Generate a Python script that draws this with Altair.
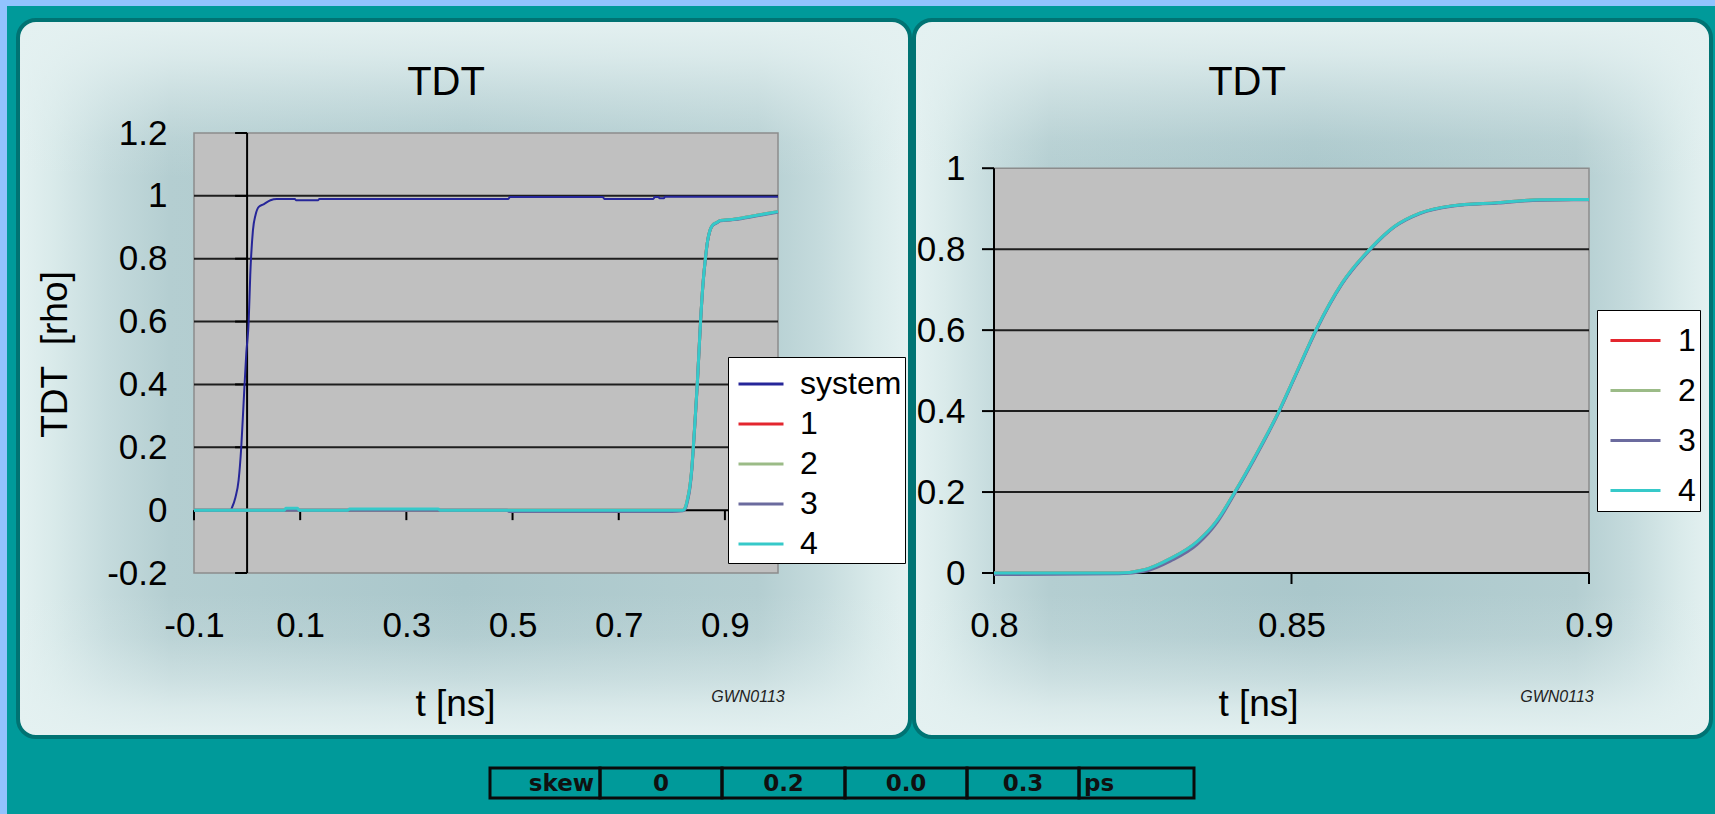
import altair as alt
import pandas as pd

# ----------------------------------------------------------------------
# TDT step responses (t in ns, reflection coefficient rho)
# ----------------------------------------------------------------------
t_system = [-0.1, -0.031, -0.028, -0.022, -0.016, -0.011, -0.0066, -0.0015,
            0.003, 0.006, 0.011, 0.016, 0.022, 0.031, 0.044, 0.056, 0.09,
            0.092, 0.134, 0.136, 0.492, 0.495, 0.67, 0.673, 0.765, 0.768,
            0.775, 0.777, 0.785, 0.787, 1.0]
rho_system = [0.0, 0.0, 0.01, 0.04, 0.095, 0.2, 0.34, 0.5,
              0.6, 0.75, 0.89, 0.94, 0.965, 0.973, 0.986, 0.99, 0.99,
              0.986, 0.986, 0.99, 0.99, 0.996, 0.996, 0.99, 0.99, 0.996,
              0.996, 0.992, 0.992, 0.997, 0.997]

# the four channels share one time base
t_chan = [-0.1, 0.07, 0.073, 0.095, 0.098, 0.19, 0.193, 0.36, 0.363, 0.49,
          0.493, 0.8, 0.821, 0.8253, 0.8297, 0.8341, 0.8375, 0.8406, 0.8437,
          0.8479, 0.8507, 0.8542, 0.8585, 0.8633, 0.8673, 0.8716, 0.8769,
          0.8847, 0.8917, 0.9, 0.93, 0.966, 1.0]
rho_ch1 = [0.0, 0.0, 0.0, 0.0, 0.0, 0.0, 0.0, 0.0, 0.0, 0.0,
           0.0, 0.0, 0.0, 0.008, 0.036, 0.077, 0.13, 0.203, 0.283,
           0.40, 0.49, 0.603, 0.716, 0.802, 0.856, 0.889, 0.907,
           0.915, 0.922, 0.923, 0.929, 0.94, 0.95]
rho_ch2 = [0.0, 0.0, 0.0, 0.0, 0.0, 0.0, 0.0, 0.0, 0.0, 0.0,
           0.0, 0.0, 0.0, 0.008, 0.036, 0.077, 0.13, 0.203, 0.283,
           0.40, 0.49, 0.603, 0.716, 0.802, 0.856, 0.889, 0.907,
           0.915, 0.922, 0.923, 0.929, 0.94, 0.95]
rho_ch3 = [0.0, 0.0, 0.0, 0.0, 0.0, 0.0, 0.0, 0.0, 0.0, 0.0,
           -0.004, -0.004, -0.002, 0.004, 0.03, 0.07, 0.125, 0.2, 0.28,
           0.398, 0.488, 0.601, 0.714, 0.8, 0.855, 0.888, 0.906,
           0.914, 0.921, 0.922, 0.927, 0.938, 0.948]
rho_ch4 = [0.0, 0.0, 0.006, 0.006, 0.0, 0.0, 0.004, 0.004, 0.0, 0.0,
           0.0, 0.0, 0.0, 0.008, 0.036, 0.077, 0.13, 0.203, 0.283,
           0.40, 0.49, 0.603, 0.716, 0.802, 0.856, 0.889, 0.907,
           0.915, 0.922, 0.923, 0.929, 0.94, 0.95]

SERIES = ["system", "1", "2", "3", "4"]
SERIES_COLORS = ["#262699", "#E3262E", "#9BBB87", "#6B6B9E", "#36C9C9"]
SERIES_WIDTHS = [2, 3, 3, 3, 3]
CHANNELS = SERIES[1:]
CHANNEL_COLORS = SERIES_COLORS[1:]

# axes: overview (left) and zoom on the channel edge (right)
LEFT_X_DOMAIN = [-0.1, 1.0]
LEFT_Y_DOMAIN = [-0.2, 1.2]
LEFT_X_TICKS = [-0.1, 0.1, 0.3, 0.5, 0.7, 0.9]
LEFT_Y_TICKS = [-0.2, 0.0, 0.2, 0.4, 0.6, 0.8, 1.0, 1.2]
LEFT_GRID = [0.2, 0.4, 0.6, 0.8, 1.0]

RIGHT_X_DOMAIN = [0.8, 0.9]
RIGHT_Y_BOX = [0.0, 1.0]
RIGHT_X_TICKS = [0.8, 0.85, 0.9]
RIGHT_Y_TICKS = [0.0, 0.2, 0.4, 0.6, 0.8, 1.0]
RIGHT_GRID = [0.2, 0.4, 0.6, 0.8]

SKEW_CELLS = ["skew", "0", "0.2", "0.0", "0.3", "ps"]

# ----------------------------------------------------------------------
# page layout (pixels)
# ----------------------------------------------------------------------
PAGE_W, PAGE_H = 1715, 814
L_X0, L_Y0, L_W, L_H = 194, 133, 584, 440     # left plot area
R_X0, R_W, R_H = 994, 595, 440                # right plot area (same top)
R_Y_TOP = 1.087                               # rho at the top edge of the right view
PANEL_TOP, PANEL_BOTTOM = 20, 737
TABLE_EDGES = [490, 600, 722, 845, 967, 1079, 1194]
TABLE_TOP, TABLE_BOTTOM = 768, 798
FONT = "Liberation Sans"

ONE = pd.DataFrame({"k": [0]})

H_GRAD = {"gradient": "linear", "x1": 0, "y1": 0, "x2": 1, "y2": 0,
          "stops": [{"offset": 0.0, "color": "#E4F1F1"},
                    {"offset": 0.04, "color": "#D9EAEA"},
                    {"offset": 0.10, "color": "#C5DBDD"},
                    {"offset": 0.17, "color": "#B4CED1"},
                    {"offset": 0.50, "color": "#AAC7CB"},
                    {"offset": 0.83, "color": "#B4CED1"},
                    {"offset": 0.90, "color": "#C5DBDD"},
                    {"offset": 0.96, "color": "#D9EAEA"},
                    {"offset": 1.0, "color": "#E4F1F1"}]}
V_GRAD = {"gradient": "linear", "x1": 0, "y1": 0, "x2": 0, "y2": 1,
          "stops": [{"offset": 0.0, "color": "rgba(228,241,241,1)"},
                    {"offset": 0.05, "color": "rgba(228,241,241,0.8)"},
                    {"offset": 0.10, "color": "rgba(228,241,241,0.5)"},
                    {"offset": 0.17, "color": "rgba(228,241,241,0.12)"},
                    {"offset": 0.22, "color": "rgba(228,241,241,0)"},
                    {"offset": 0.80, "color": "rgba(228,241,241,0)"},
                    {"offset": 0.86, "color": "rgba(228,241,241,0.15)"},
                    {"offset": 0.92, "color": "rgba(228,241,241,0.5)"},
                    {"offset": 0.96, "color": "rgba(228,241,241,0.8)"},
                    {"offset": 1.0, "color": "rgba(228,241,241,1)"}]}


def box(x0, y0, x1, y1, ox, oy, **mark):
    """Rectangle placed in page pixels, relative to a view origin (ox, oy)."""
    return alt.Chart(ONE).mark_rect(**mark).encode(
        x=alt.value(x0 - ox), x2=alt.value(x1 - ox),
        y=alt.value(y0 - oy), y2=alt.value(y1 - oy))


def text(txt, x, y, ox, oy, **mark):
    return alt.Chart(ONE).mark_text(**mark).encode(
        x=alt.value(x - ox), y=alt.value(y - oy), text=alt.value(txt))


def panel(x0, x1, ox, oy):
    return [
        box(x0, PANEL_TOP, x1, PANEL_BOTTOM, ox, oy, cornerRadius=18, fill=H_GRAD),
        box(x0, PANEL_TOP, x1, PANEL_BOTTOM, ox, oy, cornerRadius=18, fill=V_GRAD),
        box(x0, PANEL_TOP, x1, PANEL_BOTTOM, ox, oy, cornerRadius=18,
            fill="transparent", stroke="#007373", strokeWidth=4),
    ]


# ----------------------------------------------------------------------
# long-form curve table
# ----------------------------------------------------------------------
rows = [{"t": t, "rho": r, "series": "system"} for t, r in zip(t_system, rho_system)]
for name, vals in zip(CHANNELS, [rho_ch1, rho_ch2, rho_ch3, rho_ch4]):
    rows += [{"t": t, "rho": r, "series": name} for t, r in zip(t_chan, vals)]
curves = pd.DataFrame(rows)

NUM = "datum.value < 0 ? '-' + format(-datum.value, '~g') : format(datum.value, '~g')"
AXIS_STYLE = dict(labelFont=FONT, labelFontSize=35, labelColor="black",
                  titleFont=FONT, titleFontSize=37, titleFontWeight="normal",
                  titleColor="black", domain=False, ticks=False, tickSize=0,
                  grid=False, labelFlush=False, labelOverlap=False, zindex=1)


def tick_frame(values):
    return pd.DataFrame({"v": values, "z": [0.0] * len(values)})


# ----------------------------------------------------------------------
# left: full time window
# ----------------------------------------------------------------------
lxs = alt.Scale(domain=LEFT_X_DOMAIN, nice=False, zero=False)
lys = alt.Scale(domain=LEFT_Y_DOMAIN, nice=False, zero=False)
lx_axis = alt.Axis(values=LEFT_X_TICKS, labelExpr=NUM, labelPadding=35,
                   title="t [ns]", titleX=455 - L_X0, titleY=715 - (L_Y0 + L_H),
                   titleAlign="center", titleBaseline="alphabetic", **AXIS_STYLE)
ly_axis = alt.Axis(values=LEFT_Y_TICKS, labelExpr=NUM, labelPadding=27,
                   title="TDT\u00a0 [rho]", titleX=55 - L_X0, titleY=354 - L_Y0,
                   titleAngle=270, titleAlign="center", titleBaseline="middle",
                   **AXIS_STYLE)
LX = lambda f: alt.X(f"{f}:Q", scale=lxs, axis=lx_axis)
LY = lambda f: alt.Y(f"{f}:Q", scale=lys, axis=ly_axis)

left_legend = alt.Legend(title=None, orient="none", legendX=728 - L_X0, legendY=357 - L_Y0,
                         fillColor="white", strokeColor="black", padding=3,
                         symbolType="stroke", symbolSize=2025, symbolStrokeWidth=3,
                         symbolOffset=6, rowPadding=0, labelOffset=15,
                         labelFont=FONT, labelFontSize=32, labelColor="black")
left_color = alt.Color("series:N", scale=alt.Scale(domain=SERIES, range=SERIES_COLORS),
                       legend=left_legend)

left_layers = [
    box(0, 0, PAGE_W, PAGE_H, L_X0, L_Y0, fill="#92C3FE"),
    box(7, 6, PAGE_W, PAGE_H, L_X0, L_Y0, fill="#009A9A"),
] + panel(18, 910, L_X0, L_Y0)

# skew table under the panels
for i, cell in enumerate(SKEW_CELLS):
    x0, x1 = TABLE_EDGES[i], TABLE_EDGES[i + 1]
    left_layers.append(box(x0, TABLE_TOP, x1, TABLE_BOTTOM, L_X0, L_Y0,
                           fill="transparent", stroke="#0A0A0A", strokeWidth=3))
    if i == 0:
        tx, al = x1 - 6, "right"
    elif i == len(SKEW_CELLS) - 1:
        tx, al = x0 + 5, "left"
    else:
        tx, al = (x0 + x1) / 2, "center"
    left_layers.append(text(cell, tx, (TABLE_TOP + TABLE_BOTTOM) / 2 + 1, L_X0, L_Y0,
                            align=al, baseline="middle", font="DejaVu Sans",
                            fontWeight="bold", fontSize=23, color="#101010"))

left_box = pd.DataFrame({"x0": [LEFT_X_DOMAIN[0]], "x1": [LEFT_X_DOMAIN[1]],
                         "y0": [LEFT_Y_DOMAIN[0]], "y1": [LEFT_Y_DOMAIN[1]]})
left_layers += [
    alt.Chart(left_box).mark_rect(fill="#C0C0C0", stroke="#8C8C8C", strokeWidth=1.5).encode(
        x=LX("x0"), x2=alt.X2("x1"), y=LY("y0"), y2=alt.Y2("y1")),
    alt.Chart(pd.DataFrame({"v": LEFT_GRID})).mark_rule(color="#1E1E1E", strokeWidth=2).encode(
        y=LY("v"), x=alt.value(0), x2=alt.value(L_W)),
    alt.Chart(pd.DataFrame({"v": [0.0]})).mark_rule(color="black", strokeWidth=2).encode(
        y=LY("v"), x=alt.value(0), x2=alt.value(L_W)),
    alt.Chart(pd.DataFrame({"v": [0.0]})).mark_rule(color="black", strokeWidth=2).encode(
        x=LX("v"), y=alt.value(0), y2=alt.value(L_H)),
    alt.Chart(tick_frame(LEFT_X_TICKS)).mark_tick(orient="vertical", size=10, thickness=2,
                                                  yOffset=5, color="black", opacity=1).encode(
        x=LX("v"), y=LY("z")),
    alt.Chart(tick_frame(LEFT_Y_TICKS)).mark_tick(orient="horizontal", size=12, thickness=2,
                                                  xOffset=-6, color="black", opacity=1).encode(
        x=LX("z"), y=LY("v")),
]
for name, w in zip(SERIES, SERIES_WIDTHS):
    left_layers.append(
        alt.Chart(curves[curves.series == name]).mark_line(strokeWidth=w, interpolate="monotone").encode(
            x=LX("t"), y=LY("rho"), color=left_color))
left_layers += [
    text("TDT", 446, 95, L_X0, L_Y0, align="center", baseline="alphabetic",
         font=FONT, fontSize=40, color="black"),
    text("GWN0113", 748, 697, L_X0, L_Y0, align="center", baseline="middle",
         font=FONT, fontSize=16, fontStyle="italic", color="#222222"),
]
left = alt.layer(*left_layers).properties(width=L_W, height=L_H)

# ----------------------------------------------------------------------
# right: zoom on the channel edge
# ----------------------------------------------------------------------
rxs = alt.Scale(domain=RIGHT_X_DOMAIN, nice=False, zero=False)
rys = alt.Scale(domain=[0.0, R_Y_TOP], nice=False, zero=False)
rx_axis = alt.Axis(values=RIGHT_X_TICKS, labelExpr=NUM, labelPadding=35,
                   title="t [ns]", titleX=1258 - R_X0, titleY=715 - (L_Y0 + R_H),
                   titleAlign="center", titleBaseline="alphabetic", **AXIS_STYLE)
ry_axis = alt.Axis(values=RIGHT_Y_TICKS, labelExpr=NUM, labelPadding=29, title=None,
                   **AXIS_STYLE)
RX = lambda f: alt.X(f"{f}:Q", scale=rxs, axis=rx_axis)
RY = lambda f: alt.Y(f"{f}:Q", scale=rys, axis=ry_axis)

right_legend = alt.Legend(title=None, orient="none", legendX=1597 - R_X0, legendY=310 - L_Y0,
                          fillColor="white", strokeColor="black", padding=4,
                          symbolType="stroke", symbolSize=2500, symbolStrokeWidth=3,
                          symbolOffset=8, rowPadding=7, labelOffset=16,
                          labelFont=FONT, labelFontSize=32, labelColor="black")
right_color = alt.Color("series:N", scale=alt.Scale(domain=CHANNELS, range=CHANNEL_COLORS),
                        legend=right_legend)

zoom = curves[(curves.series != "system") & (curves.t >= RIGHT_X_DOMAIN[0])
              & (curves.t <= RIGHT_X_DOMAIN[1])]

right_box = pd.DataFrame({"x0": [RIGHT_X_DOMAIN[0]], "x1": [RIGHT_X_DOMAIN[1]],
                          "y0": [RIGHT_Y_BOX[0]], "y1": [RIGHT_Y_BOX[1]]})
right_layers = panel(914, 1711, R_X0, L_Y0) + [
    alt.Chart(right_box).mark_rect(fill="#C0C0C0", stroke="#8C8C8C", strokeWidth=1.5).encode(
        x=RX("x0"), x2=alt.X2("x1"), y=RY("y0"), y2=alt.Y2("y1")),
    alt.Chart(pd.DataFrame({"v": RIGHT_GRID})).mark_rule(color="#1E1E1E", strokeWidth=2).encode(
        y=RY("v"), x=alt.value(0), x2=alt.value(R_W)),
    alt.Chart(right_box).mark_rule(color="black", strokeWidth=2).encode(
        y=RY("y0"), x=RX("x0"), x2=alt.X2("x1")),
    alt.Chart(right_box).mark_rule(color="black", strokeWidth=2).encode(
        x=RX("x0"), y=RY("y0"), y2=alt.Y2("y1")),
    alt.Chart(tick_frame(RIGHT_X_TICKS)).mark_tick(orient="vertical", size=11, thickness=2,
                                                   yOffset=5.5, color="black", opacity=1).encode(
        x=RX("v"), y=RY("z")),
    alt.Chart(pd.DataFrame({"v": RIGHT_Y_TICKS, "z": [RIGHT_X_DOMAIN[0]] * len(RIGHT_Y_TICKS)}))
    .mark_tick(orient="horizontal", size=12, thickness=2, xOffset=-6, color="black", opacity=1)
    .encode(x=RX("z"), y=RY("v")),
]
for name in CHANNELS:
    right_layers.append(
        alt.Chart(zoom[zoom.series == name]).mark_line(strokeWidth=3, interpolate="monotone").encode(
            x=RX("t"), y=RY("rho"), color=right_color))
right_layers += [
    text("TDT", 1247, 95, R_X0, L_Y0, align="center", baseline="alphabetic",
         font=FONT, fontSize=40, color="black"),
    text("GWN0113", 1557, 697, R_X0, L_Y0, align="center", baseline="middle",
         font=FONT, fontSize=16, fontStyle="italic", color="#222222"),
]
right = alt.layer(*right_layers).properties(width=R_W, height=R_H)

chart = (
    alt.hconcat(left, right, spacing=R_X0 - (L_X0 + L_W), bounds="flush")
    .resolve_scale(color="independent")
    .properties(padding=0, background="#009A9A")
    .configure_view(strokeWidth=0)
)

chart.save("out.html", embed_options={"renderer": "svg", "actions": False})
